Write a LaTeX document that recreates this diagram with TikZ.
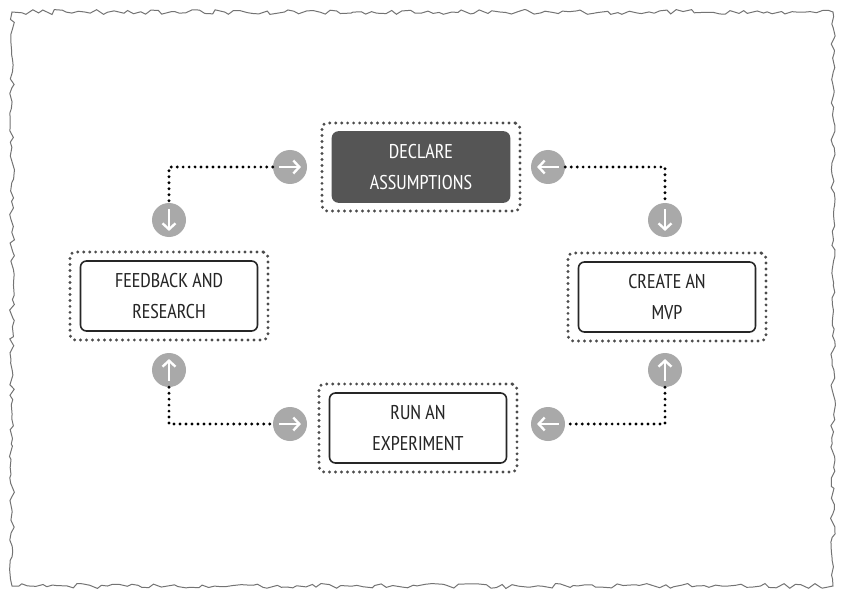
\documentclass[tikz,border=0pt]{standalone}
\usepackage{fontspec}
\setmainfont{PT Sans Narrow}
\usetikzlibrary{decorations.pathmorphing,arrows.meta}
\definecolor{dark}{HTML}{555555}
\definecolor{circ}{HTML}{A9A9A9}
\tikzset{
 box/.style={draw=black!85,line width=1.6pt,rounded corners=6pt,minimum width=177bp,minimum height=70bp,align=center,font=\fontsize{20}{31}\selectfont,text=black!85,fill=white},
 dark/.style={box,fill=dark,draw=dark,text=white},
 outer/.style={draw=black!70,line width=3.2pt,dash pattern=on 0pt off 6pt,line cap=round,rounded corners=5pt,minimum width=198bp,minimum height=88bp},
 circ/.style={circle,fill=circ,minimum size=34bp,inner sep=0pt},
 arr/.style={white,line width=2.4pt,-{Straight Barb[length=6pt,width=13pt]}},
 conn/.style={black,line width=3.2pt,dash pattern=on 0pt off 6pt,line cap=round}
}
\begin{document}
\begin{tikzpicture}[x=1bp,y=-1bp]
\useasboundingbox (0,0) rectangle (851,607);
\draw[black!55,line width=1pt,fill=white,decoration={random steps,segment length=6pt,amplitude=2.5pt},decorate] (12,12) rectangle (833,586);
\node[outer] (do) at (421,167) {};
\node[dark] (d) at (421,167) {DECLARE\\ASSUMPTIONS};
\node[outer] (fo) at (169,296) {};
\node[box] (f) at (169,296) {FEEDBACK AND\\RESEARCH};
\node[outer] (co) at (667,297) {};
\node[box] (c) at (667,297) {CREATE AN\\MVP};
\node[outer] (ro) at (418,428) {};
\node[box] (r) at (418,428) {RUN AN\\EXPERIMENT};
\node[circ] (c1) at (290,167) {};
\node[circ] (c2) at (548,167) {};
\node[circ] (c3) at (169,220) {};
\node[circ] (c4) at (665,220) {};
\node[circ] (c5) at (169,370) {};
\node[circ] (c6) at (665,370) {};
\node[circ] (c7) at (290,424) {};
\node[circ] (c8) at (548,424) {};
\draw[arr] ([xshift=-11]c1.center) -- ([xshift=11]c1.center);
\draw[arr] ([xshift=11]c2.center) -- ([xshift=-11]c2.center);
\draw[arr] ([xshift=-11]c7.center) -- ([xshift=11]c7.center);
\draw[arr] ([xshift=11]c8.center) -- ([xshift=-11]c8.center);
\draw[arr] ([yshift=11]c3.center) -- ([yshift=-11]c3.center);
\draw[arr] ([yshift=11]c4.center) -- ([yshift=-11]c4.center);
\draw[arr] ([yshift=-11]c5.center) -- ([yshift=11]c5.center);
\draw[arr] ([yshift=-11]c6.center) -- ([yshift=11]c6.center);
\draw[conn] (c1.west) -| (c3.north);
\draw[conn] (c2.east) -| (c4.north);
\draw[conn] (c5.south) |- (c7.west);
\draw[conn] (c6.south) |- (c8.east);
\end{tikzpicture}
\end{document}
